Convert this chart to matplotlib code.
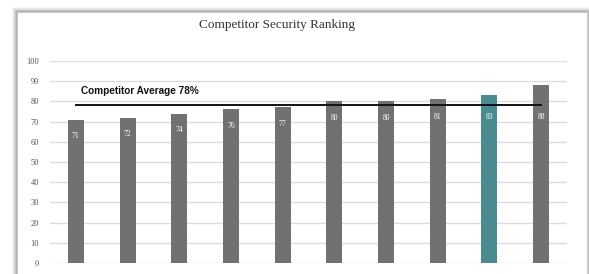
import matplotlib
matplotlib.use("Agg")
import matplotlib.pyplot as plt
from matplotlib.patches import Rectangle

# Data
categories = ["C1", "C2", "C3", "C4", "C5", "C6", "C7", "C8", "C9", "C10"]
values = [71, 72, 74, 76, 77, 80, 80, 81, 83, 88]
highlight_index = 8
average = 78
average_label = "Competitor Average 78%"
title = "Competitor Security Ranking"
yticks = [0, 10, 20, 30, 40, 50, 60, 70, 80, 90, 100]

W, H = 589, 274
fig = plt.figure(figsize=(W / 100, H / 100), dpi=100)
fig.patch.set_facecolor("white")

# Card shadow + card
for i, a in enumerate([0.05, 0.07, 0.10, 0.14, 0.18]):
    d = 5 - i
    fig.patches.append(Rectangle(((17 - d) / W, -0.1), (570 + 2 * d) / W, (H - 12 + d) / H + 0.1,
                                 transform=fig.transFigure, facecolor=(0.3, 0.3, 0.3, a),
                                 edgecolor="none", zorder=0))
fig.patches.append(Rectangle((17 / W, -0.1), 570 / W, (H - 12) / H + 0.1,
                             transform=fig.transFigure, facecolor="white",
                             edgecolor="#c8c8c8", linewidth=0.8, zorder=1))

ax = fig.add_axes([50 / W, 11 / H, 517 / W, 202 / H])
ax.set_facecolor("none")
ax.set_zorder(2)

x = list(range(len(categories)))
colors = ["#717171"] * len(values)
colors[highlight_index] = "#4a8b8f"
ax.bar(x, values, width=0.31, color=colors, zorder=2)

ax.set_xlim(-0.5, len(categories) - 0.5)
ax.set_ylim(0, 100)
ax.set_yticks(yticks)
ax.set_yticklabels([str(t) for t in yticks], fontfamily="Liberation Serif",
                   fontsize=6, color="#555555")
ax.set_xticks([])
ax.tick_params(axis="y", length=0, pad=8)
for s in ax.spines.values():
    s.set_visible(False)
ax.yaxis.grid(True, color="#dcdcdc", linewidth=1.0, zorder=0)
ax.set_axisbelow(True)

# Average line
ax.plot([x[0], x[-1]], [average, average], color="#111111", linewidth=1.4, zorder=3)
ax.text(x[0] + 0.1, average + 7, average_label, fontfamily="Liberation Sans",
        fontweight="bold", fontsize=7.2, color="#111111", va="center", ha="left", zorder=4)

# Value labels
for xi, v in zip(x, values):
    ly = min(v - 8, 72.5)
    ax.text(xi, ly, str(v), ha="center", va="center", color="white",
            fontfamily="Liberation Serif", fontsize=5.5, zorder=4)

fig.text(277 / W, 1 - 25 / H, title, ha="center", va="center",
         fontfamily="Liberation Serif", fontsize=9.5, color="#333333")

fig.savefig("out.png", dpi=100)
